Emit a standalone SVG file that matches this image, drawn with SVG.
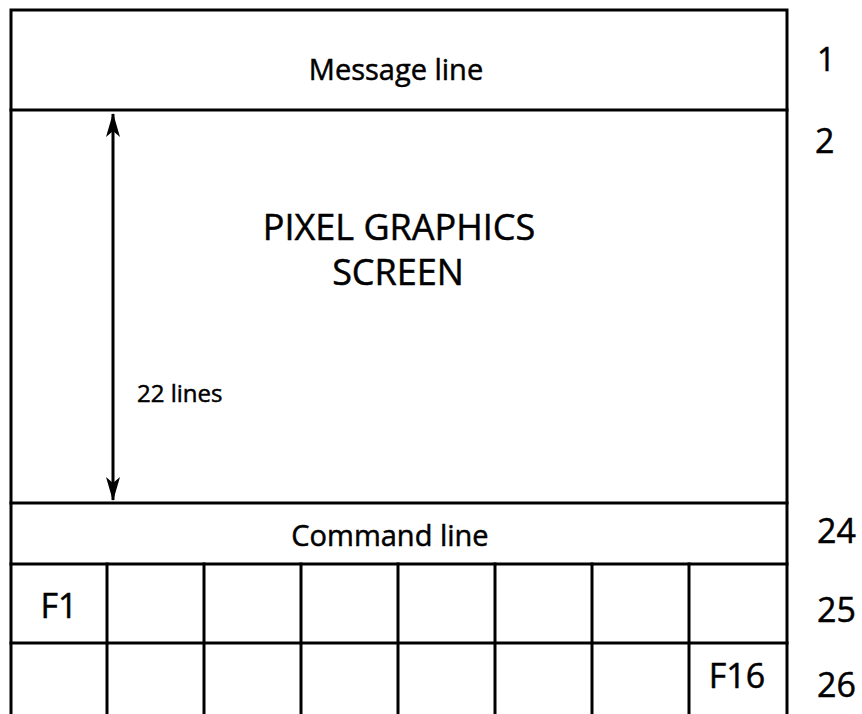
<svg xmlns="http://www.w3.org/2000/svg" width="862" height="714" viewBox="0 0 862 714">
<style>
.ln{stroke:#000;stroke-width:3;fill:none;stroke-linecap:square}
.t{font-family:"Open Sans","Noto Sans",sans-serif;fill:#000;stroke:#000;stroke-width:0.5}
</style>
<defs>
<marker id="ah" viewBox="0 0 24 14" refX="23" refY="7" markerWidth="24" markerHeight="14" markerUnits="userSpaceOnUse" orient="auto-start-reverse">
<path d="M0,0 L24,7 L0,14 L6,7 Z" fill="#000"/>
</marker>
</defs>
<rect width="862" height="714" fill="#fff"/>
<g id="frame">
<path class="ln" d="M11,714 L11,10 L787,10 L787,714"/>
</g>
<g id="message-line">
<line class="ln" x1="11" y1="110" x2="787" y2="110"/>
<text class="t" x="396" y="80" font-size="29" text-anchor="middle">Message line</text>
</g>
<g id="pixel-graphics-screen">
<text class="t" x="399" y="240" font-size="36" text-anchor="middle">PIXEL GRAPHICS</text>
<text class="t" x="398" y="285" font-size="36" text-anchor="middle">SCREEN</text>
<text class="t" x="137" y="402" font-size="24">22 lines</text>
</g>
<g id="command-line">
<line class="ln" x1="11" y1="503" x2="787" y2="503"/>
<line class="ln" x1="11" y1="564" x2="787" y2="564"/>
<text class="t" x="390" y="546" font-size="29" text-anchor="middle">Command line</text>
</g>
<g id="function-keys">
<line class="ln" x1="11" y1="643" x2="787" y2="643"/>
<line class="ln" x1="107" y1="564" x2="107" y2="714"/>
<line class="ln" x1="204" y1="564" x2="204" y2="714"/>
<line class="ln" x1="301" y1="564" x2="301" y2="714"/>
<line class="ln" x1="398" y1="564" x2="398" y2="714"/>
<line class="ln" x1="495" y1="564" x2="495" y2="714"/>
<line class="ln" x1="592" y1="564" x2="592" y2="714"/>
<line class="ln" x1="689" y1="564" x2="689" y2="714"/>
<text class="t" x="59" y="618" font-size="34" text-anchor="middle">F1</text>
<text class="t" x="737" y="688" font-size="34" text-anchor="middle">F16</text>
</g>
<g id="row-numbers">
<text class="t" x="817" y="71" font-size="32">1</text>
<text class="t" x="815" y="153" font-size="34">2</text>
<text class="t" x="817" y="543" font-size="34">24</text>
<text class="t" x="817" y="622" font-size="34">25</text>
<text class="t" x="817" y="697" font-size="34">26</text>
</g>
<g id="connectors">
<line x1="113" y1="114" x2="113" y2="500" stroke="#000" stroke-width="3" marker-start="url(#ah)" marker-end="url(#ah)"/>
</g>
</svg>
